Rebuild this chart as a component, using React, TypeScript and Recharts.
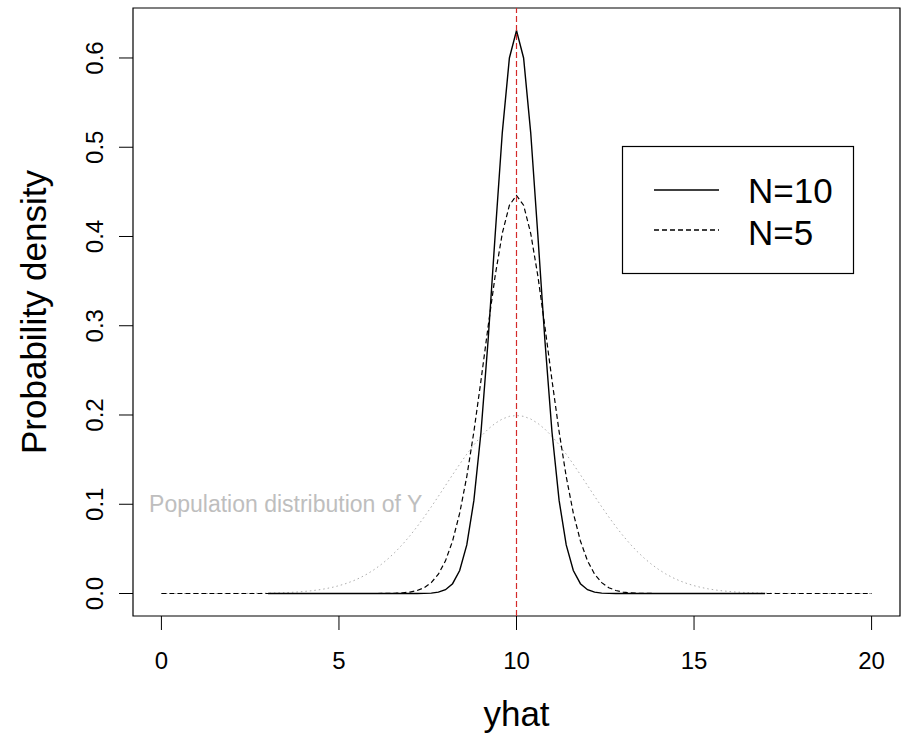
import React from "react";
import {
  LineChart,
  Line,
  XAxis,
  YAxis,
  ReferenceLine,
  ReferenceArea,
  ReferenceDot,
  Label,
} from "recharts";

// ---------- data ----------
const X_VALUES = [
  0, 0.2, 0.4, 0.6, 0.8, 1, 1.2, 1.4, 1.6, 1.8, 2, 2.2, 2.4, 2.6, 2.8, 3, 3.2, 3.4, 3.6, 3.8,
  4, 4.2, 4.4, 4.6, 4.8, 5, 5.2, 5.4, 5.6, 5.8, 6, 6.2, 6.4, 6.6, 6.8, 7, 7.2, 7.4, 7.6, 7.8,
  8, 8.2, 8.4, 8.6, 8.8, 9, 9.2, 9.4, 9.6, 9.8, 10, 10.2, 10.4, 10.6, 10.8, 11, 11.2, 11.4,
  11.6, 11.8, 12, 12.2, 12.4, 12.6, 12.8, 13, 13.2, 13.4, 13.6, 13.8, 14, 14.2, 14.4, 14.6,
  14.8, 15, 15.2, 15.4, 15.6, 15.8, 16, 16.2, 16.4, 16.6, 16.8, 17, 17.2, 17.4, 17.6, 17.8,
  18, 18.2, 18.4, 18.6, 18.8, 19, 19.2, 19.4, 19.6, 19.8, 20,
];

// Sampling distribution of yhat, N = 10 (drawn from 3 to 17)
const N10_DENSITY = [
  null, null, null, null, null, null, null, null, null, null, null, null, null, null, null,
  0, 0, 0, 0, 0, 0, 0, 0, 0, 0, 0, 0, 0, 0, 0, 0, 0, 0, 0, 0,
  0.00001, 0.00004, 0.00013, 0.00047, 0.00149, 0.00425, 0.01099, 0.02571, 0.05443, 0.10427,
  0.18072, 0.28343, 0.4022, 0.51644, 0.60002, 0.63078,
  0.60002, 0.51644, 0.4022, 0.28343, 0.18072, 0.10427, 0.05443, 0.02571, 0.01099, 0.00425,
  0.00149, 0.00047, 0.00013, 0.00004, 0.00001,
  0, 0, 0, 0, 0, 0, 0, 0, 0, 0, 0, 0, 0, 0, 0, 0, 0, 0, 0, 0,
  null, null, null, null, null, null, null, null, null, null, null, null, null, null, null,
];

// Sampling distribution of yhat, N = 5
const N5_DENSITY = [
  0, 0, 0, 0, 0, 0, 0, 0, 0, 0, 0, 0, 0, 0, 0, 0, 0, 0, 0, 0, 0, 0, 0, 0, 0, 0, 0, 0, 0, 0,
  0.00002, 0.00005, 0.00014, 0.00032, 0.00074, 0.00161, 0.00332, 0.00652, 0.01219, 0.02166,
  0.03661, 0.05887, 0.09005, 0.13103, 0.18134, 0.23874, 0.29898, 0.35617, 0.40359, 0.43502,
  0.44603,
  0.43502, 0.40359, 0.35617, 0.29898, 0.23874, 0.18134, 0.13103, 0.09005, 0.05887, 0.03661,
  0.02166, 0.01219, 0.00652, 0.00332, 0.00161, 0.00074, 0.00032, 0.00014, 0.00005, 0.00002,
  0, 0, 0, 0, 0, 0, 0, 0, 0, 0, 0, 0, 0, 0, 0, 0, 0, 0, 0, 0, 0, 0, 0, 0, 0, 0, 0, 0, 0, 0,
];

// Population distribution of Y
const POP_DENSITY = [
  0, 0, 0, 0, 0, 0, 0, 0, 0.00003, 0.00004, 0.00007, 0.0001, 0.00015, 0.00021, 0.00031,
  0.00044, 0.00062, 0.00086, 0.00119, 0.00163, 0.00222, 0.00298, 0.00396, 0.00521, 0.00679,
  0.00876, 0.0112, 0.01416, 0.01774, 0.02199, 0.027, 0.03281, 0.03948, 0.04703, 0.05546,
  0.06476, 0.07486, 0.08569, 0.09709, 0.10893, 0.12099, 0.13304, 0.14485, 0.15613, 0.16661,
  0.17603, 0.18414, 0.19069, 0.19552, 0.19848, 0.19947,
  0.19848, 0.19552, 0.19069, 0.18414, 0.17603, 0.16661, 0.15613, 0.14485, 0.13304, 0.12099,
  0.10893, 0.09709, 0.08569, 0.07486, 0.06476, 0.05546, 0.04703, 0.03948, 0.03281, 0.027,
  0.02199, 0.01774, 0.01416, 0.0112, 0.00876, 0.00679, 0.00521, 0.00396, 0.00298, 0.00222,
  0.00163, 0.00119, 0.00086, 0.00062, 0.00044, 0.00031, 0.00021, 0.00015, 0.0001, 0.00007,
  0.00004, 0.00003, 0, 0, 0, 0, 0, 0, 0, 0,
];

const X_TICKS = [0, 5, 10, 15, 20];
const Y_TICKS = [0, 0.1, 0.2, 0.3, 0.4, 0.5, 0.6];
const Y_TICK_LABELS = ["0.0", "0.1", "0.2", "0.3", "0.4", "0.5", "0.6"];
const X_DOMAIN = [-0.8, 20.8];
const Y_DOMAIN = [-0.0252, 0.656];
const TRUE_MEAN = 10;
const POP_LABEL = { x: 3.5, y: 0.1, text: "Population distribution of Y" };
const LEGEND_ITEMS = [
  { label: "N=10", dash: undefined as string | undefined },
  { label: "N=5", dash: "5 3" },
];

const FONT = "'Liberation Sans', Arial, Helvetica, sans-serif";

const rows = X_VALUES.map((x, i) => ({
  x,
  n10: N10_DENSITY[i],
  n5: N5_DENSITY[i],
  pop: POP_DENSITY[i],
}));

const XTick = (props: any) => {
  const { x, y, payload } = props;
  return (
    <text x={x} y={y} textAnchor="middle" fontSize={24} fontFamily={FONT} fill="#000">
      {payload.value}
    </text>
  );
};

const YTick = (props: any) => {
  const { x, y, payload } = props;
  const idx = Y_TICKS.indexOf(payload.value);
  const label = idx >= 0 ? Y_TICK_LABELS[idx] : String(payload.value);
  return (
    <text
      transform={`translate(${x},${y}) rotate(-90)`}
      textAnchor="middle"
      fontSize={24}
      fontFamily={FONT}
      fill="#000"
    >
      {label}
    </text>
  );
};

const XTitle = (props: any) => {
  const vb = props.viewBox;
  return (
    <text
      x={vb.x + vb.width / 2}
      y={vb.y + 110}
      textAnchor="middle"
      fontSize={35}
      fontFamily={FONT}
      fill="#000"
    >
      yhat
    </text>
  );
};

const YTitle = (props: any) => {
  const vb = props.viewBox;
  return (
    <text
      transform={`translate(${vb.x + 46},${vb.y + vb.height / 2}) rotate(-90)`}
      textAnchor="middle"
      fontSize={35}
      fontFamily={FONT}
      fill="#000"
    >
      Probability density
    </text>
  );
};

export default function App() {
  return (
    <div style={{ position: "absolute", left: 0, top: 0, width: 905, height: 733, background: "#fff" }}>
      <LineChart
        width={905}
        height={733}
        data={rows}
        margin={{ top: 8, right: 5, bottom: 0, left: 0 }}
      >
        <XAxis
          dataKey="x"
          type="number"
          domain={X_DOMAIN}
          ticks={X_TICKS}
          allowDataOverflow
          axisLine={false}
          tickLine={{ stroke: "#000", strokeWidth: 1 }}
          tickSize={14}
          tickMargin={39}
          tick={<XTick />}
          height={117}
          interval={0}
        >
          <Label content={<XTitle />} />
        </XAxis>
        <YAxis
          type="number"
          domain={Y_DOMAIN}
          ticks={Y_TICKS}
          allowDataOverflow
          axisLine={false}
          tickLine={{ stroke: "#000", strokeWidth: 1 }}
          tickSize={14}
          tickMargin={16}
          tick={<YTick />}
          width={133}
          interval={0}
        >
          <Label content={<YTitle />} />
        </YAxis>
        <ReferenceArea
          x1={X_DOMAIN[0]}
          x2={X_DOMAIN[1]}
          y1={Y_DOMAIN[0]}
          y2={Y_DOMAIN[1]}
          fill="none"
          fillOpacity={0}
          stroke="#000"
          strokeWidth={1.2}
          ifOverflow="visible"
        />
        <Line
          dataKey="pop"
          stroke="#adadad"
          strokeWidth={1}
          strokeDasharray="1.5 3"
          dot={false}
          activeDot={false}
          isAnimationActive={false}
          type="linear"
        />
        <Line
          dataKey="n5"
          stroke="#000"
          strokeWidth={1.2}
          strokeDasharray="5 3"
          dot={false}
          activeDot={false}
          isAnimationActive={false}
          type="linear"
        />
        <Line
          dataKey="n10"
          stroke="#000"
          strokeWidth={1.4}
          dot={false}
          activeDot={false}
          isAnimationActive={false}
          connectNulls={false}
          type="linear"
        />
        <ReferenceLine
          x={TRUE_MEAN}
          stroke="#d42a2a"
          strokeWidth={1.2}
          strokeDasharray="6 3"
          ifOverflow="visible"
        />
        <ReferenceDot
          x={POP_LABEL.x}
          y={POP_LABEL.y}
          r={0}
          fill="none"
          stroke="none"
          label={{
            value: POP_LABEL.text,
            position: "center",
            fill: "#bebebe",
            fontSize: 23,
            fontFamily: FONT,
          }}
        />
      </LineChart>
      <svg
        width={905}
        height={733}
        style={{ position: "absolute", left: 0, top: 0, pointerEvents: "none" }}
      >
        <rect x={622.5} y={146.5} width={231} height={127} fill="#fff" stroke="#000" strokeWidth={1.2} />
        {LEGEND_ITEMS.map((item, i) => (
          <g key={item.label}>
            <line
              x1={654}
              x2={719}
              y1={190 + i * 40}
              y2={190 + i * 40}
              stroke="#000"
              strokeWidth={1.3}
              strokeDasharray={item.dash}
            />
            <text x={748} y={203 + i * 42} fontSize={35} fontFamily={FONT} fill="#000">
              {item.label}
            </text>
          </g>
        ))}
      </svg>
    </div>
  );
}
